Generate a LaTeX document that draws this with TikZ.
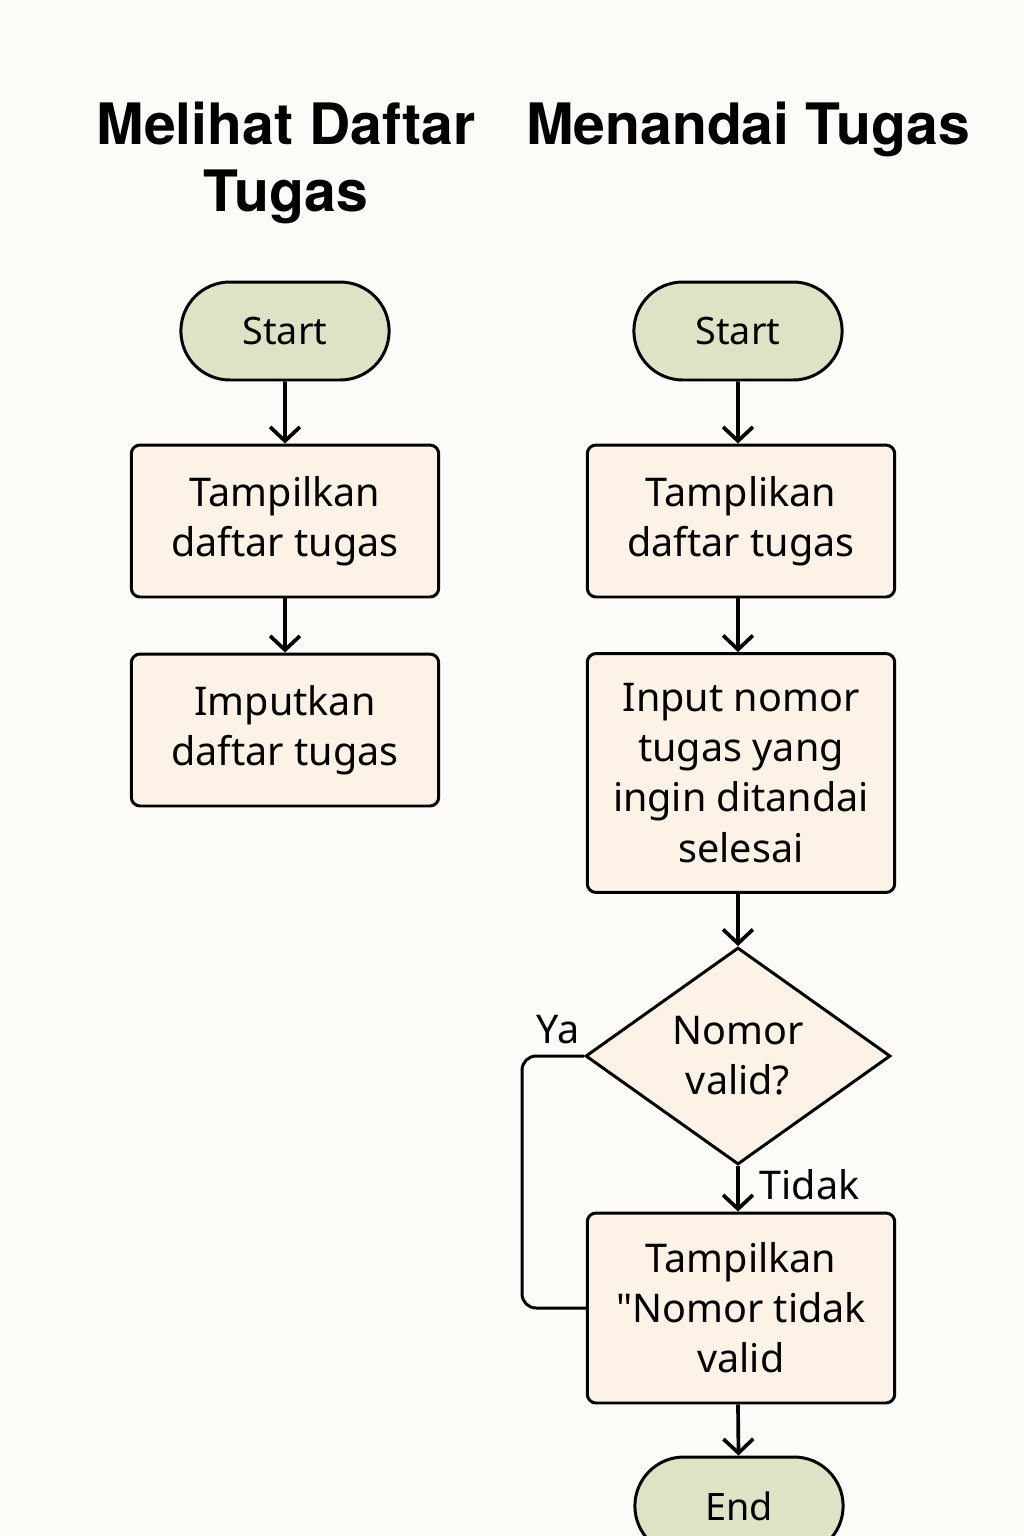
\documentclass[tikz,border=0pt]{standalone}
\usepackage{fontspec}
\setmainfont{Noto Sans}
\newfontfamily\headfont{TeX Gyre Heros}
\newfontfamily\plainfont{Noto Sans}
\usetikzlibrary{arrows.meta,shapes.geometric,shapes.misc}
\definecolor{bgpaper}{HTML}{FDFBF7}
\definecolor{termfill}{HTML}{DCE4C5}
\definecolor{boxfill}{HTML}{FCF2E6}
\tikzset{
	terminal/.style = {draw, line width=1.7pt, fill=termfill, rounded rectangle, minimum width=4.4cm, minimum height=1.96cm, font=\fontsize{21.5}{28}\selectfont},
	process/.style = {draw, line width=1.7pt, fill=boxfill, rounded corners=5pt, minimum width=6.15cm, align=center, font=\fontsize{22.5}{28.5}\selectfont},
	decision/.style = {draw, line width=1.7pt, fill=boxfill, diamond, aspect=1.4, minimum width=6.1cm, minimum height=4.34cm, inner sep=0pt, align=center, font=\fontsize{22.5}{28.5}\selectfont},
	flow/.style = {draw, line width=2.1pt, -{Straight Barb[length=8pt,width=17pt]}},
	title/.style = {align=center, font=\headfont\bfseries\fontsize{32.5}{38}\selectfont},
	lbl/.style = {font=\fontsize{22.5}{28.5}\selectfont}
}
\begin{document}
\begin{tikzpicture}[x = 0.02cm, y = -0.02cm]
	\clip (0,0) rectangle (1024,1536);
	\fill[bgpaper] (0,0) rectangle (1024,1536);
	
	% kolom kiri: melihat daftar tugas
	\node[title] (titleA) at (286,163) {Melihat Daftar\\Tugas};
	\node[terminal] (startA) at (285,331) {Start};
	\node[process, minimum height=3.04cm] (showA) at (285,521) {Tampilkan\\daftar tugas};
	\node[process, minimum height=3.04cm] (inputA) at (285,730) {Imputkan\\daftar tugas};
	
	\draw[flow] (startA) -- (showA);
	\draw[flow] (showA) -- (inputA);
	
	% kolom kanan: menandai tugas
	\node[title] (titleB) at (748,129) {Menandai Tugas};
	\node[terminal] (startB) at (738,331) {Start};
	\node[process, minimum height=3.04cm] (showB) at (741,521) {Tamplikan\\daftar tugas};
	\node[process, minimum height=4.78cm] (inputB) at (741,773) {Input nomor\\tugas yang\\ingin ditandai\\selesai};
	\node[decision] (check) at (738,1056) {Nomor\\valid?};
	\node[process, minimum height=3.8cm] (errB) at (741,1308) {Tampilkan\\{\plainfont\symbol{34}}Nomor tidak\\valid};
	\node[terminal] (endB) at (739,1506) {End};
	
	\draw[flow] (startB) -- (showB.north -| startB);
	\draw[flow] (showB.south -| startB) -- (inputB.north -| startB);
	\draw[flow] (inputB.south -| check) -- (check);
	\draw[flow] (check) -- (errB.north -| check) node[lbl, pos=0.42, right=8pt] (tidak) {Tidak};
	\draw[flow] (errB.south -| check) -- (endB);
	
	\draw[line width=1.7pt, rounded corners=8pt] (check.west) -- ++(-62,0) |- (errB.west);
	\node[lbl] (ya) at (558,1030) {Ya};
\end{tikzpicture}
\end{document}
